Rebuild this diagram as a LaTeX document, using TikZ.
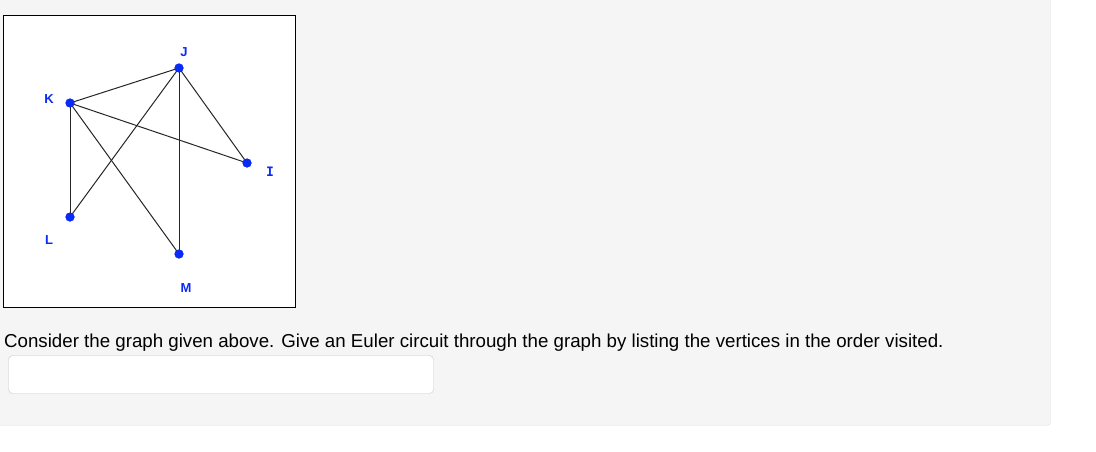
\documentclass[tikz,border=0pt]{standalone}
\usepackage{fontspec}
\setmainfont{Liberation Sans}
\newfontfamily\labmono{DejaVu Sans Mono}
\definecolor{vblue}{HTML}{0A2BF5}
\begin{document}
\begin{tikzpicture}[x=1pt,y=-1pt,
  vert/.style={circle,fill=vblue,inner sep=0pt,minimum size=9pt},
  vlab/.style={text=vblue,font=\fontsize{13}{14}\selectfont\bfseries,inner sep=0pt},
  edge/.style={draw=black!85,line width=1pt}]
\useasboundingbox (0,0) rectangle (1096,452);
\fill[white] (0,0) rectangle (1096,452);
\draw[fill=black!4,draw=black!10,rounded corners=3pt] (-10,-10) rectangle (1050.5,425.5);
\draw[fill=white,draw=black,line width=1pt] (3.5,15.5) rectangle (295.5,307.5);
\node[vert] (J) at (179,68) {};
\node[vert] (K) at (70,103) {};
\node[vert] (I) at (247,163) {};
\node[vert] (L) at (70,217) {};
\node[vert] (M) at (179,254) {};
\node[vlab] (lJ) at (184,52) {J};
\node[vlab] (lK) at (49,99) {K};
\node[vlab,font=\fontsize{13}{14}\selectfont\labmono\bfseries] (lI) at (270,172) {I};
\node[vlab] (lL) at (49,240) {L};
\node[vlab] (lM) at (186,288) {M};
\draw[edge] (K.center) -- (J.center);
\draw[edge] (K.center) -- (I.center);
\draw[edge] (K.center) -- (L.center);
\draw[edge] (K.center) -- (M.center);
\draw[edge] (J.center) -- (L.center);
\draw[edge] (J.center) -- (M.center);
\draw[edge] (J.center) -- (I.center);
\foreach \v in {J,K,I,L,M} \fill[vblue] (\v) circle (4.5pt);
\node[anchor=base west,inner sep=0pt,font=\fontsize{18.7}{20}\selectfont] (q) at (4,347) {Consider the graph given above. Give an Euler circuit through the graph by listing the vertices in the order visited.};
\draw[fill=white,draw=black!22,rounded corners=4pt] (8.5,355.5) rectangle (433.5,393.5);
\end{tikzpicture}
\end{document}
